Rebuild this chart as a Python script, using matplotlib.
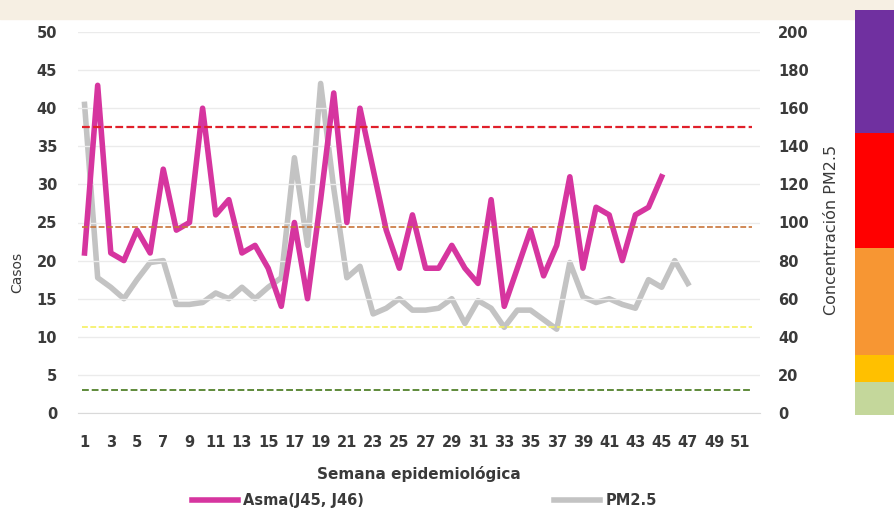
import numpy as np
import matplotlib.pyplot as plt
from matplotlib.patches import Rectangle

# weekly series
weeks = list(range(1, 53))
asma = [21, 43, 21, 20, 24, 21, 32, 24, 25, 40, 26, 28, 21, 22, 19, 14, 25, 15, 28, 42,
        25, 40, 32, 24, 19, 26, 19, 19, 22, 19, 17, 28, 14, 19, 24, 18, 22, 31, 19, 27,
        26, 20, 26, 27, 31]
pm25 = [162, 71, 66, 60, 70, 79, 80, 57, 57, 58, 63, 60, 66, 60, 66, 71, 134, 88, 173, 118,
        71, 77, 52, 55, 60, 54, 54, 55, 60, 47, 59, 55, 45, 54, 54, 49, 44, 79, 61, 58,
        60, 57, 55, 70, 66, 80, 68]

# PM2.5 limits (ug/m3) and their line styles
limits = [150, 97.4, 45, 12]
limit_colors = ['#e0202a', '#c8743a', '#f5f060', '#5e8a3a']
limit_widths = [1.6, 1.2, 1.2, 1.4]

# colour strip on the right
band_colors = ['#c4d79b', '#ffc000', '#f79633', '#ff0000', '#7030a0']
band_sizes = [33, 27, 107, 115, 123]

txt = '#3a3a3a'
plt.rcParams['font.family'] = ['DejaVu Sans']

fig = plt.figure(figsize=(8.95, 5.13), dpi=100)
fig.patches.append(Rectangle((0, 0.963), 1, 0.037, transform=fig.transFigure,
                             color='#f6efe3', zorder=-5))

ax = fig.add_axes([78 / 895, 100 / 513, 682 / 895, 381 / 513])
ax2 = ax.twinx()
ax.set_zorder(ax2.get_zorder() + 1)
ax.patch.set_visible(False)

ax2.plot(weeks[:len(pm25)], pm25, color='#c3c3c3', lw=4, solid_joinstyle='round',
         label='PM2.5', zorder=2)
ax.plot(weeks[:len(asma)], asma, color='#d6359f', lw=4, solid_joinstyle='round',
        label='Asma(J45, J46)', zorder=3)

for val, col, w in zip(limits, limit_colors, limit_widths):
    ax.plot([weeks[0] - 0.2, weeks[-1] - 0.1], [val, val], color=col, lw=w,
            dashes=(3.5, 1.5), transform=ax2.transData, scalex=False, scaley=False,
            zorder=4)

ax.set_xlim(0.5, 52.5)
ax.set_ylim(0, 50)
ax2.set_ylim(0, 200)
ax.set_yticks(np.arange(0, 51, 5))
ax2.set_yticks(np.arange(0, 201, 20))
ax.set_xticks(weeks[::2])
ax.set_xticklabels([str(w) for w in weeks[::2]])

ax.grid(axis='y', color='#ebebeb', lw=1)
ax.set_axisbelow(True)
for a in (ax, ax2):
    for s in a.spines.values():
        s.set_visible(False)
ax.spines['bottom'].set_visible(True)
ax.spines['bottom'].set_color('#d9d9d9')

ax.tick_params(axis='y', length=0, pad=15, labelsize=10.5, labelcolor=txt)
ax.tick_params(axis='x', length=0, pad=16, labelsize=10.5, labelcolor=txt)
ax2.tick_params(axis='y', length=0, pad=13, labelsize=10.5, labelcolor=txt)
for lab in ax.get_xticklabels() + ax.get_yticklabels() + ax2.get_yticklabels():
    lab.set_fontweight('bold')

ax.set_xlabel('Semana epidemiológica', fontsize=11, color=txt, fontweight='bold')
ax.xaxis.set_label_coords(0.5, -0.14)
ax.set_ylabel('Casos', fontsize=10, color=txt)
ax.yaxis.set_label_coords(-0.079, 0.37)
ax2.set_ylabel('Concentración PM2.5', fontsize=11.5, color=txt)
ax2.yaxis.set_label_coords(1.094, 0.48)

h1, l1 = ax.get_legend_handles_labels()
h2, l2 = ax2.get_legend_handles_labels()
leg = fig.legend(h1 + h2, l1 + l2, loc='center', bbox_to_anchor=(0.474, 0.025), ncol=2,
                 frameon=False, handlelength=3.2, columnspacing=13, handletextpad=0.35,
                 prop={'size': 10.5, 'weight': 'bold'})
for t in leg.get_texts():
    t.set_color(txt)

# colour strip
cb = fig.add_axes([855 / 895, 98 / 513, 45 / 895, 405 / 513])
cb.bar([0] * len(band_sizes), band_sizes, bottom=np.concatenate([[0], np.cumsum(band_sizes)[:-1]]),
       width=1, color=band_colors, align='edge')
cb.set_xlim(0, 1)
cb.set_ylim(0, sum(band_sizes))
cb.axis('off')

fig.savefig('out.png', dpi=100)
